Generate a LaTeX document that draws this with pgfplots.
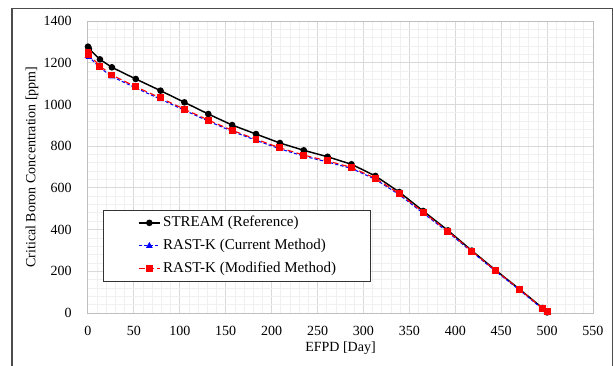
\documentclass[border=0pt]{standalone}
\usepackage{fontspec}
\setmainfont{Liberation Serif}
\usepackage{pgfplots}
\pgfplotsset{compat=1.18}
\begin{document}
\fontsize{10.5pt}{12.6pt}\selectfont
\begin{tikzpicture}
\useasboundingbox (0,0) rectangle (460.5pt,273.75pt);
\draw[line width=1.1pt, black!70] (9pt,-20pt) rectangle (459.3pt,267.5pt);
\begin{axis}[
  at={(66pt,39pt)}, anchor=south west,
  scale only axis, width=378.75pt, height=219pt,
  xmin=0, xmax=550, ymin=0, ymax=1400,
  xtick={0,50,...,550}, ytick={0,200,...,1400},
  minor x tick num=4, minor y tick num=4,
  grid=both,
  major grid style={line width=0.75pt, black!15},
  minor grid style={line width=0.6pt, black!6},
  axis line style={line width=0.75pt, black!25},
  tick style={draw=none},
  /pgf/number format/assume math mode=true,
  /pgf/number format/1000 sep={},
  xticklabel style={inner sep=0pt, anchor=center, yshift=-13.5pt},
  yticklabel style={inner sep=0pt, anchor=east, xshift=-12pt},
  every axis x label/.style={at={(rel axis cs:0.5,0)}, yshift=-26.25pt, anchor=center},
  every axis y label/.style={at={(rel axis cs:0,0.5)}, xshift=-42pt, rotate=90, anchor=center},
  xlabel={EFPD [Day]},
  ylabel={Critical Boron Concentration [ppm]},
  legend image code/.code={
    \path[draw=none, fill=none] (-25.5pt,-1pt) rectangle (-25pt,1pt);
    \draw[mark repeat=2,mark phase=2,#1] plot coordinates {(0pt,0pt)(7.9pt,0pt)(15.75pt,0pt)};
  },
  legend style={at={(0.0297,0.3527)}, anchor=north west, draw=black!80, line width=0.75pt,
    fill=white, inner xsep=1pt, inner ysep=2pt, row sep=2.75pt, font=\fontsize{11.25pt}{13pt}\selectfont,
    nodes={inner sep=2pt, text height=8pt, text depth=2.5pt}},
  legend cell align=left,
]
\addplot[black, line width=1.1pt, mark=*, mark size=1.9pt] coordinates {
(0,1277)(1,1267)(13,1216)(26,1178)(52,1122)(79,1066)(105,1010)(131,954)(157,901)(183,858)(209,815)(235,780)(261,749)(287,713)(313,657)(339,580)(365,489)(392,396)(418,299)(444,205)(470,114)(495,24)(500,3)};
\addlegendentry{STREAM (Reference)}
\addplot[blue, line width=0.8pt, dash pattern=on 2.5pt off 1.5pt, mark=triangle*, mark size=2.1pt, mark options={solid}] coordinates {
(0,1233)(1,1228)(13,1176)(26,1134)(52,1079)(79,1025)(105,972)(131,920)(157,871)(183,828)(209,787)(235,752)(261,724)(287,693)(313,641)(339,567)(365,479)(392,388)(418,293)(444,200)(470,110)(495,19)(500,0)};
\addlegendentry{RAST-K (Current Method)}
\addplot[red, line width=0.8pt, dash pattern=on 4.5pt off 2.5pt, mark=square*, mark size=2.2pt, mark options={solid}] coordinates {
(0,1247)(1,1240)(13,1184)(26,1141)(52,1085)(79,1031)(105,977)(131,925)(157,876)(183,833)(209,792)(235,757)(261,729)(287,698)(313,646)(339,572)(365,484)(392,392)(418,297)(444,203)(470,114)(495,22)(500,5)};
\addlegendentry{RAST-K (Modified Method)\hspace*{23pt}}
\end{axis}
\end{tikzpicture}
\end{document}
